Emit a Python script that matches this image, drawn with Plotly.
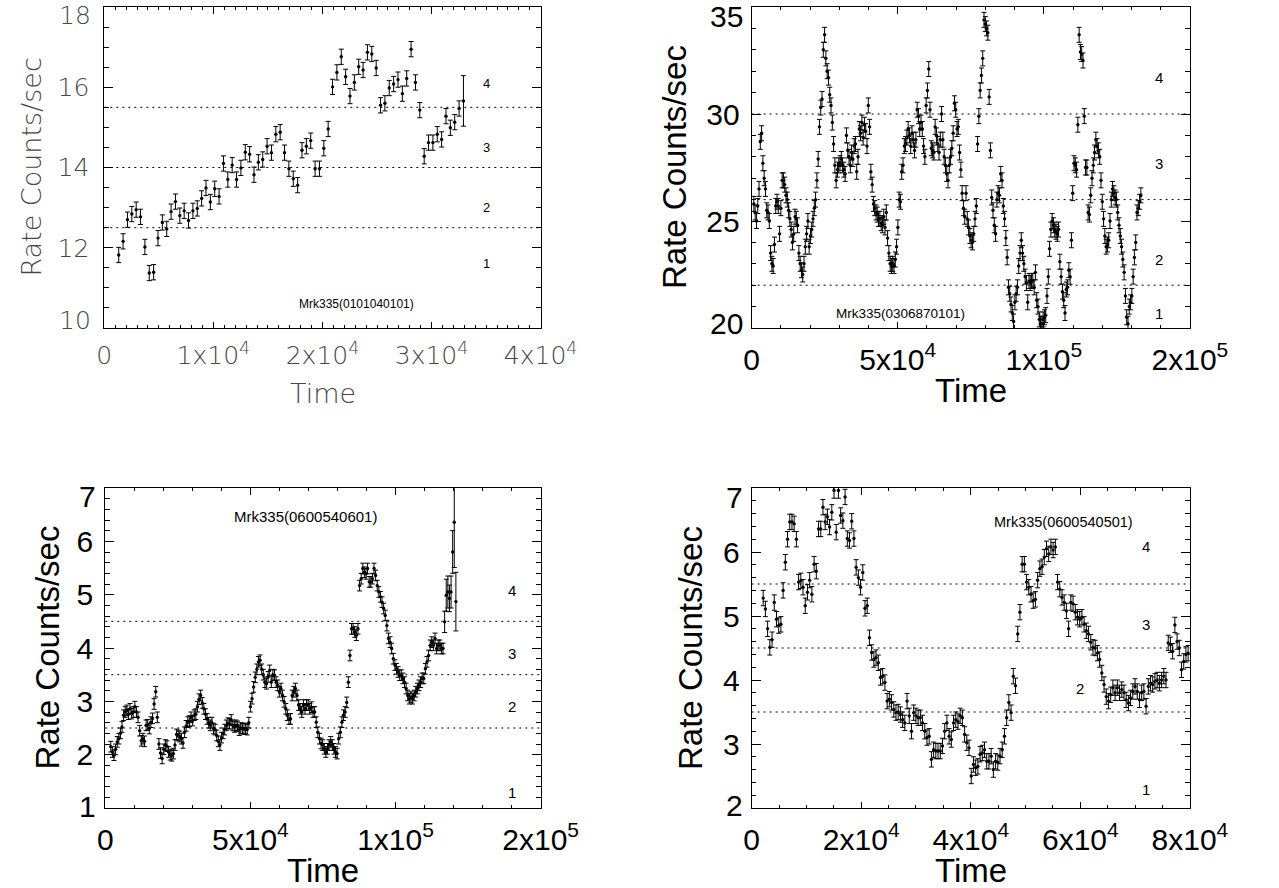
import plotly.graph_objects as go

W, H = 1279, 888

# ---------------- data ----------------
# Panel 1: Mrk335(0101040101)
P1_T0, P1_DT = 1320, 400
P1_RATE = [11.82, 12.16, 12.7, 12.84, 12.95, 12.77, 12.02, 11.37, 11.39, 12.24,
           12.63, 12.47, 12.9, 13.15, 12.8, 12.92, 12.68, 12.92, 12.98, 13.23,
           13.49, 13.14, 13.47, 13.28, 14.1, 13.7, 14.06, 13.7, 13.99, 14.38,
           14.33, 13.82, 14.13, 14.2, 14.53, 14.37, 14.83, 14.88, 14.37, 13.97,
           13.72, 13.56, 14.43, 14.53, 14.67, 13.97, 13.97, 14.48, 14.96, 16.01,
           16.37, 16.76, 16.26, 15.78, 16.12, 16.51, 16.43, 16.87, 16.83, 16.48,
           15.55, 15.6, 15.98, 16.08, 16.19, 15.84, 16.22, 16.95, 16.12, 15.43,
           14.28, 14.62, 14.62, 14.83, 14.7, 15.28, 14.99, 15.13, 15.47, 15.66]
P1_ERR = 0.19
P1_ERR_TAIL = [0.63]

# Panel 2: Mrk335(0306870101)
P2_T0, P2_DT = 770, 440
P2_RATE = [25.8, 25.4, 25.0, 25.7, 26.5, 28.7, 29.1, 27.7, 27.0, 26.5,
           25.5, 25.4, 25.0, 23.5, 23.0, 22.9, 23.9, 25.7, 25.9,
           25.7, 24.4, 25.6, 26.9, 26.9, 26.7, 26.2, 26.0, 25.5, 25.1,
           24.6, 24.0, 24.4, 25.2, 25.1, 24.8, 23.5, 23.0, 22.7,
           22.5, 23.0, 23.8, 24.4, 25.0, 23.8, 24.3, 24.6, 25.1,
           25.6, 26.0, 26.9, 27.9, 29.4, 30.3, 30.7, 33.0, 33.7, 32.6,
           32.0, 31.7, 30.9, 30.4, 29.6, 28.6, 27.6, 26.9, 27.4, 27.6,
           27.7, 27.9, 27.6, 27.4, 27.2, 29.0, 28.3, 28.0, 27.6, 28.2,
           27.9, 28.5, 28.6, 27.3, 28.0, 29.3, 29.1, 29.6, 28.9, 29.5,
           29.2, 28.5, 30.4, 29.4, 27.3, 26.7, 25.8, 25.6, 25.4, 25.3,
           25.1, 25.1, 24.9, 24.8, 25.2, 24.7, 25.4, 24.2, 23.5, 23.0,
           22.9, 23.0, 22.9, 23.2, 23.8, 24.7, 26.0, 25.9, 27.3, 27.6,
           28.5, 28.6, 28.9, 29.3,
           29.0, 28.5, 29.1, 28.8, 28.3, 28.8, 30.2, 29.9, 29.3,
           29.6, 29.3, 28.5, 28.0, 30.4, 31.1, 32.1, 30.2, 28.4, 28.3,
           28.2, 29.4, 29.0, 28.6, 28.2, 28.8, 30.0, 28.8, 28.0, 27.6,
           27.2, 26.9, 27.6, 28.0, 28.4, 29.1, 30.5, 30.2, 29.3, 29.4,
           28.2, 27.4, 26.3, 25.6, 25.2, 26.3, 25.1, 24.7, 24.3, 24.1,
           24.0, 24.4, 25.1, 25.7, 28.6, 29.9, 31.1, 31.8, 32.6, 34.4,
           34.2, 34.0, 33.8, 30.8, 28.3, 26.1, 25.5, 24.8, 24.4, 26.0,
           26.3, 26.2, 27.2, 26.9, 25.7, 25.1, 24.2, 23.3, 21.9, 21.6,
           21.1, 20.7, 20.3, 21.2, 21.6, 21.9, 22.9, 23.5, 24.1, 23.5,
           23.0, 22.4, 22.1, 21.2, 22.2, 22.1, 22.2, 22.2, 21.9, 22.6,
           21.3, 21.0, 20.4, 20.2, 20.2, 20.4, 20.5, 20.6, 21.5, 22.4,
           23.7, 24.6, 25.0, 24.8, 24.6, 24.5, 24.4, 24.6, 23.1, 22.4,
           21.7, 21.3, 20.7, 21.8, 21.9, 22.7, 22.4, 24.1, 26.3, 27.7,
           27.6, 27.4, 29.5, 33.7, 32.9, 32.8, 32.5, 29.9, 27.5, 27.5,
           25.4, 25.3, 26.2,
           27.0, 27.6, 28.2, 28.8, 28.5, 28.3, 28.0, 26.9, 25.9, 25.1,
           24.3, 23.8, 23.9, 24.1, 25.0, 26.0, 26.5, 26.3, 26.1, 26.0,
           25.4, 24.8, 24.3, 23.8, 23.2, 22.6, 21.5, 20.5, 20.2, 21.0,
           21.2, 21.5, 22.4, 23.3, 24.0, 25.4, 25.6, 25.9, 26.2]
P2_ERR = 0.35

# Panel 3: Mrk335(0600540601)
P3_T0, P3_DT = 1890, 553
P3_RATE = [2.15, 2.05, 1.99, 2.1, 2.24, 2.3, 2.4, 2.52, 2.74, 2.8,
           2.83, 2.76, 2.86, 2.77, 2.8, 2.9, 2.8, 2.7, 2.45, 2.26,
           2.3, 2.25, 2.55, 2.56, 2.49, 2.61, 2.68, 2.95, 3.18, 2.7,
           2.2, 2.03, 1.93, 2.1, 2.18, 2.16, 2.05, 2.0, 1.98, 2.02,
           2.18, 2.38, 2.36, 2.34, 2.3, 2.22, 2.42, 2.54, 2.61, 2.63,
           2.7, 2.64, 2.74, 2.76, 2.9, 3.04, 3.11, 2.97, 2.86, 2.76,
           2.67, 2.6, 2.55, 2.6, 2.49, 2.47, 2.36, 2.25, 2.18, 2.32,
           2.4, 2.47, 2.55, 2.59, 2.58, 2.65, 2.55, 2.52, 2.55, 2.53,
           2.46, 2.5, 2.49, 2.48, 2.49, 2.47, 2.6, 2.9, 3.05, 3.27,
           3.45, 3.6, 3.74, 3.77, 3.6, 3.5, 3.36, 3.33, 3.46, 3.58,
           3.36,
           3.5, 3.49, 3.36, 3.3, 3.18, 3.24, 3.11, 2.99, 2.86, 2.74,
           2.67, 2.67, 3.11, 3.18, 3.24, 3.11, 2.93, 2.86, 2.8, 2.93,
           2.86, 2.93, 2.93, 2.86, 2.89, 2.8, 2.8, 2.61, 2.42, 2.3,
           2.21, 2.18, 2.11, 2.05, 2.11, 2.18, 2.24, 2.18, 2.11, 2.05,
           2.02, 2.3, 2.42, 2.61, 2.74, 2.8, 2.98, 3.36, 3.86, 4.36,
           4.36, 4.3, 4.24, 4.36, 5.17, 5.3, 5.49, 5.42, 5.39, 5.49,
           5.24, 5.24, 5.3, 5.49, 5.36, 5.17, 5.05, 4.96, 4.86, 4.74,
           4.61, 4.42, 4.18, 4.11, 3.99, 3.8, 3.68, 3.61, 3.55, 3.49,
           3.49, 3.43, 3.36, 3.24, 3.11, 3.05, 3.08, 3.05, 3.11, 3.18,
           3.24, 3.3, 3.36, 3.43, 3.43, 3.61, 3.74, 3.86, 4.05, 4.11,
           4.05, 4.18, 3.99, 4.05, 4.05, 3.99, 3.99,
           4.49, 4.99, 5.05, 4.93, 5.05, 5.8, 6.36, 4.87]
P3_ERR = 0.1
P3_ERR_TAIL = [0.2, 0.3, 0.3, 0.25, 0.3, 0.4, 0.85, 0.55]

# Panel 4: Mrk335(0600540501)
P4_T0, P4_DT = 2110, 404
P4_RATE = [5.28, 5.11, 4.8, 4.51, 4.63, 5.21, 4.95, 4.85, 4.87, 5.4,
           5.84, 6.2, 6.47, 6.47, 6.44, 6.2, 5.53, 5.55, 5.45, 5.16,
           5.37, 5.56, 5.34, 5.81, 5.7, 6.36, 6.36, 6.7, 6.47, 6.55,
           6.39, 6.62, 6.96, 6.31, 6.96, 6.57, 6.49, 6.86, 6.21, 6.18,
           6.48, 6.21, 5.76, 5.6, 5.45, 5.68, 5.12, 5.16, 4.66, 4.43,
           4.32, 4.35, 4.27, 4.04, 4.06, 3.96, 3.67, 3.7, 3.65, 3.54,
           3.49, 3.5, 3.46, 3.38, 3.33, 3.67, 3.44,
           3.2, 3.49, 3.44, 3.41, 3.41, 3.33, 3.2, 3.1, 3.12, 2.76,
           2.91, 2.89, 2.89, 2.89, 2.97, 3.2, 3.33, 3.12, 3.07, 3.33,
           3.38, 3.35, 3.44, 3.41, 3.15, 3.02, 2.94, 2.5, 2.68, 2.63,
           2.65, 2.84, 2.86, 2.91, 2.73, 2.73, 2.81, 2.6, 2.73, 2.71,
           2.81, 2.91, 3.12, 3.41, 3.65, 3.49, 4.06, 3.91, 4.72, 5.06,
           5.81, 5.81, 5.53, 5.45, 5.34, 5.24, 5.26, 5.56, 5.74, 5.77,
           5.92, 6.05, 5.97, 6.08, 6.03, 6.08, 5.53, 5.42, 5.29, 5.21,
           5.08, 4.8, 5.21, 5.19, 5.06, 4.98, 4.95, 4.98, 4.87, 4.77,
           4.72, 4.59, 4.51,
           4.5, 4.42, 4.32, 4.11, 3.93, 3.74, 3.67, 3.77, 3.88, 3.8,
           3.88, 3.8, 3.85, 3.8, 3.69, 3.64, 3.72, 3.82, 3.9, 3.82,
           3.69, 3.8, 3.82, 3.59, 3.9, 3.95, 3.93, 3.98, 4.0, 3.95,
           4.0, 4.06, 4.0, 4.58, 4.55, 4.45, 4.86, 4.6, 4.5, 4.16,
           4.29, 4.4, 4.42]
P4_ERR = 0.12

# axis ranges / ticks
P1_XRANGE, P1_YRANGE = [0, 40000], [10, 18]
P2_XRANGE, P2_YRANGE = [0, 150000], [20, 35]
P3_XRANGE, P3_YRANGE = [0, 150000], [1, 7]
P4_XRANGE, P4_YRANGE = [0, 80000], [2, 7]

P1_XTICKS = [0, 10000, 20000, 30000, 40000]
P1_XTEXT = ["0", "1x10<sup>4</sup>", "2x10<sup>4</sup>", "3x10<sup>4</sup>", "4x10<sup>4</sup>"]
P23_XTICKS = [0, 50000, 100000, 150000]
P23_XTEXT = ["0", "5x10<sup>4</sup>", "1x10<sup>5</sup>", "2x10<sup>5</sup>"]
P4_XTICKS = [0, 20000, 40000, 60000, 80000]
P4_XTEXT = ["0", "2x10<sup>4</sup>", "4x10<sup>4</sup>", "6x10<sup>4</sup>", "8x10<sup>4</sup>"]
P1_YTICKS = [10, 12, 14, 16, 18]
P2_YTICKS = [20, 25, 30, 35]
P3_YTICKS = [1, 2, 3, 4, 5, 6, 7]
P4_YTICKS = [2, 3, 4, 5, 6, 7]

P1_LEVELS = [12.5, 14.0, 15.5]
P2_LEVELS = [22.0, 26.0, 30.0]
P3_LEVELS = [2.5, 3.5, 4.5]
P4_LEVELS = [3.5, 4.5, 5.5]

P1_NAME = "Mrk335(0101040101)"
P2_NAME = "Mrk335(0306870101)"
P3_NAME = "Mrk335(0600540601)"
P4_NAME = "Mrk335(0600540501)"

# ---------------- layout geometry (page pixels) ----------------
BOX = {
    1: (100, 553, 7, 328),
    2: (772, 1227, 7, 328),
    3: (101, 553, 488, 808),
    4: (772, 1227, 488, 808),
}


def px(x):
    return x / W


def py(y):
    return 1 - y / H


HELV = "Liberation Sans, Arial, Helvetica, sans-serif"
HERSHEY = "DejaVu Sans, Verdana, sans-serif"
P1_COL = "#474747"

fig = go.Figure()


def add_series(k, t0, dt, rate, err):
    t = [t0 + i * dt for i in range(len(rate))]
    xa = "x" if k == 1 else "x%d" % k
    ya = "y" if k == 1 else "y%d" % k
    fig.add_trace(go.Scatter(
        x=t, y=rate, mode="markers", xaxis=xa, yaxis=ya,
        marker=dict(color="black", size=3.4, symbol="circle"),
        error_y=dict(type="data", array=err, visible=True, color="black",
                     thickness=1, width=2.5),
        showlegend=False, hoverinfo="skip"))


e1 = [P1_ERR] * (len(P1_RATE) - len(P1_ERR_TAIL)) + P1_ERR_TAIL
e2 = [P2_ERR] * len(P2_RATE)
e3 = [P3_ERR] * (len(P3_RATE) - len(P3_ERR_TAIL)) + P3_ERR_TAIL
e4 = [P4_ERR] * len(P4_RATE)
add_series(1, P1_T0, P1_DT, P1_RATE, e1)
add_series(2, P2_T0, P2_DT, P2_RATE, e2)
add_series(3, P3_T0, P3_DT, P3_RATE, e3)
add_series(4, P4_T0, P4_DT, P4_RATE, e4)


def base_axis(font):
    return dict(showline=True, linecolor="black", linewidth=1, mirror="allticks",
                ticks="inside", tickcolor="black", tickwidth=1, showgrid=False,
                zeroline=False, tickfont=font, fixedrange=True)


F1 = dict(family=HERSHEY, size=25, color=P1_COL, weight=200)
FH_TICK = dict(family=HELV, size=30, color="black")
PANELS = {
    1: dict(xr=P1_XRANGE, yr=P1_YRANGE, xt=P1_XTICKS, xtt=P1_XTEXT, yt=P1_YTICKS,
            xminor=1000, yminor=0.5, font=F1, ystand=9, yshift_top=-9, yshift_bot=8),
    2: dict(xr=P2_XRANGE, yr=P2_YRANGE, xt=P23_XTICKS, xtt=P23_XTEXT, yt=P2_YTICKS,
            xminor=10000, yminor=1, font=FH_TICK, ystand=5, yshift_top=-10, yshift_bot=5),
    3: dict(xr=P3_XRANGE, yr=P3_YRANGE, xt=P23_XTICKS, xtt=P23_XTEXT, yt=P3_YTICKS,
            xminor=10000, yminor=0.2, font=FH_TICK, ystand=5, yshift_top=-8, yshift_bot=2),
    4: dict(xr=P4_XRANGE, yr=P4_YRANGE, xt=P4_XTICKS, xtt=P4_XTEXT, yt=P4_YTICKS,
            xminor=5000, yminor=0.2, font=FH_TICK, ystand=5, yshift_top=-9, yshift_bot=3),
}

annotations = []
shapes = []
for k, p in PANELS.items():
    x0, x1, y0, y1 = BOX[k]
    sx = "" if k == 1 else str(k)
    inner = p["yt"][1:-1]
    xa = base_axis(p["font"])
    xa.update(domain=[px(x0), px(x1)], range=p["xr"], anchor="y" + sx,
              tickvals=p["xt"], ticktext=p["xtt"], ticklen=6.5, ticklabelstandoff=5,
              minor=dict(ticks="inside", ticklen=3.2, dtick=p["xminor"], tick0=0,
                         tickcolor="black", showgrid=False))
    ya = base_axis(p["font"])
    ya.update(domain=[py(y1), py(y0)], range=p["yr"], anchor="x" + sx,
              tickvals=inner, ticktext=[str(v) for v in inner], ticklen=9,
              ticklabelstandoff=p["ystand"],
              minor=dict(ticks="inside", ticklen=4.5, dtick=p["yminor"], tick0=0,
                         tickcolor="black", showgrid=False))
    fig.layout["xaxis" + sx] = xa
    fig.layout["yaxis" + sx] = ya
    # extreme y labels, pulled inward as in the original
    for v, sh in ((p["yt"][0], p["yshift_bot"]), (p["yt"][-1], p["yshift_top"])):
        annotations.append(dict(x=px(x0), xref="paper", y=v, yref="y" + sx,
                                text=str(v), showarrow=False, xanchor="right",
                                yanchor="middle", xshift=-(p["ystand"] + 2), yshift=sh,
                                font=p["font"]))

# dotted level lines
for k, levels in ((1, P1_LEVELS), (2, P2_LEVELS), (3, P3_LEVELS), (4, P4_LEVELS)):
    sx = "" if k == 1 else str(k)
    for lv in levels:
        shapes.append(dict(type="line", xref="x%s domain" % sx, yref="y" + sx,
                           x0=0, x1=1, y0=lv, y1=lv,
                           line=dict(color="black", width=1, dash="2px,4px")))

# axis titles
F1_TITLE = dict(family=HERSHEY, size=27, color=P1_COL, weight=200)
FH_TITLE = dict(family=HELV, size=33, color="black")
TITLES = [
    (1, 24, 393, F1_TITLE),
    (2, 692, 390, FH_TITLE),
    (3, 40, 870, FH_TITLE),
    (4, 708, 870, FH_TITLE),
]
for k, ylab_x, time_y, f in TITLES:
    x0, x1, y0, y1 = BOX[k]
    annotations.append(dict(x=px(ylab_x), y=py((y0 + y1) / 2), xref="paper", yref="paper",
                            text="Rate Counts/sec", textangle=-90, showarrow=False,
                            xanchor="center", yanchor="middle", font=f))
    annotations.append(dict(x=px((x0 + x1) / 2), y=py(time_y), xref="paper", yref="paper",
                            text="Time", showarrow=False, xanchor="center",
                            yanchor="middle", font=f))

# observation labels
NAMES = [(1, P1_NAME, 23100, 10.6, 12), (2, P2_NAME, 51000, 20.68, 13.5),
         (3, P3_NAME, 69000, 6.47, 15), (4, P4_NAME, 57000, 6.47, 14.5)]
for k, name, xv, yv, fs in NAMES:
    sx = "" if k == 1 else str(k)
    annotations.append(dict(x=xv, y=yv, xref="x" + sx, yref="y" + sx, text=name,
                            showarrow=False, xanchor="center", yanchor="middle",
                            font=dict(family=HELV, size=fs, color="black")))

# region numbers
REGIONS = [
    (1, [(35000, 11.6, "1"), (35000, 13.0, "2"), (35000, 14.5, "3"), (35000, 16.1, "4")], 13),
    (2, [(139500, 20.7, "1"), (139500, 23.2, "2"), (139500, 27.7, "3"), (139500, 31.7, "4")], 15),
    (3, [(140000, 1.29, "1"), (140000, 2.91, "2"), (140000, 3.89, "3"), (140000, 5.08, "4")], 15),
    (4, [(72000, 2.29, "1"), (60000, 3.87, "2"), (72000, 4.87, "3"), (72000, 6.08, "4")], 15),
]
for k, items, fs in REGIONS:
    sx = "" if k == 1 else str(k)
    for xv, yv, txt in items:
        annotations.append(dict(x=xv, y=yv, xref="x" + sx, yref="y" + sx, text=txt,
                                showarrow=False, xanchor="center", yanchor="middle",
                                font=dict(family=HELV, size=fs, color="black")))

fig.update_layout(width=W, height=H, margin=dict(l=0, r=0, t=0, b=0),
                  paper_bgcolor="white", plot_bgcolor="white",
                  annotations=annotations, shapes=shapes, showlegend=False)

# the page's default 8 px body margin is removed so the figure fills the window
fig.write_html("out.html",
               config={"displayModeBar": False, "staticPlot": True},
               post_script="document.body.style.margin='0px';"
                           "document.body.style.overflow='hidden';")
